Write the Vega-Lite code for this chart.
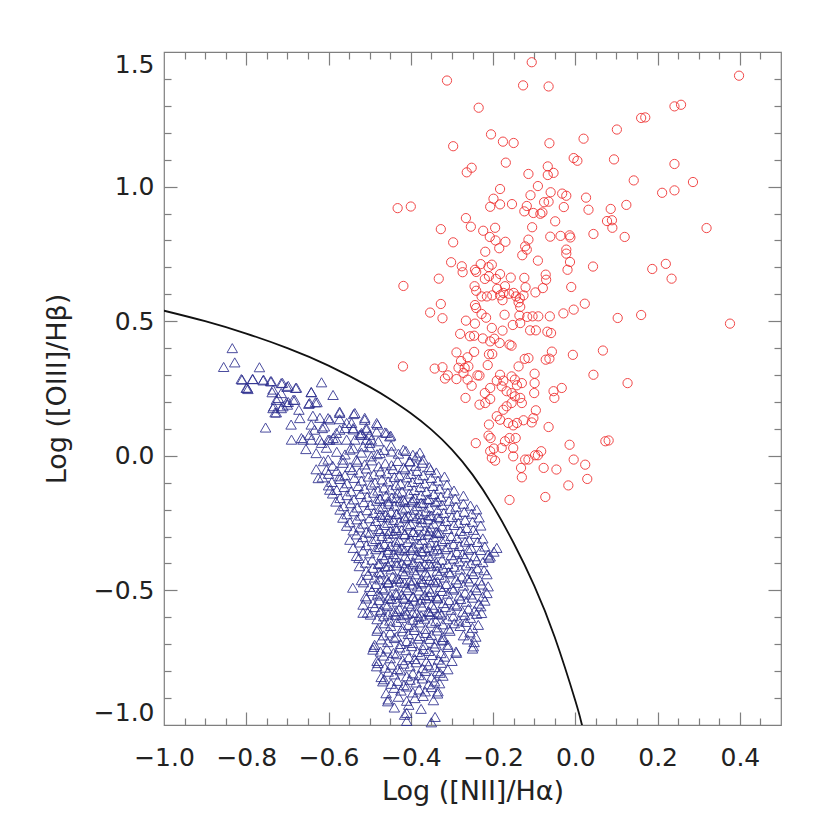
{
"$schema": "https://vega.github.io/schema/vega-lite/v6.json",
"width": 617, "height": 673,
"autosize": {"type": "none"},
"padding": {"left": 164, "top": 52, "right": 49, "bottom": 105},
"background": "white",
"config": {"view": {"stroke": "#7f7f7f", "strokeWidth": 1.2},
  "axis": {"labelFont": "DejaVu Sans", "titleFont": "DejaVu Sans", "labelFontSize": 25, "titleFontSize": 27, "titleFontWeight": "normal", "labelColor": "#222", "titleColor": "#222", "tickColor": "#7f7f7f", "tickWidth": 1.2, "grid": false, "domain": false, "labelOverlap": false}},
"datasets": {
"curve": [{"x":-1.0,"y":0.539},{"x":-0.9,"y":0.5},{"x":-0.8,"y":0.454},{"x":-0.7,"y":0.4},{"x":-0.6,"y":0.335},{"x":-0.5,"y":0.256},{"x":-0.45,"y":0.21},{"x":-0.4,"y":0.158},{"x":-0.35,"y":0.097},{"x":-0.3,"y":0.023},{"x":-0.25,"y":-0.07},{"x":-0.2,"y":-0.186},{"x":-0.15,"y":-0.324},{"x":-0.1,"y":-0.482},{"x":-0.05,"y":-0.674},{"x":0.0,"y":-0.91},{"x":0.014,"y":-0.987},{"x":0.02,"y":-1.021},{"x":0.03,"y":-1.083}],
"red": [
{"x":-0.106,"y":1.462},{"x":-0.312,"y":1.394},{"x":-0.127,"y":1.376},{"x":-0.065,"y":1.372},{"x":0.398,"y":1.412},{"x":-0.235,"y":1.293},{"x":0.241,"y":1.298},{"x":0.257,"y":1.304},{"x":0.16,"y":1.255},{"x":0.17,"y":1.257},{"x":0.101,"y":1.212},{"x":-0.205,"y":1.194},{"x":-0.176,"y":1.167},{"x":-0.15,"y":1.162},{"x":-0.063,"y":1.161},{"x":0.02,"y":1.178},{"x":-0.297,"y":1.15},{"x":-0.169,"y":1.089},{"x":-0.004,"y":1.106},{"x":0.005,"y":1.096},{"x":0.094,"y":1.101},{"x":0.241,"y":1.084},{"x":-0.264,"y":1.053},{"x":-0.252,"y":1.07},{"x":-0.114,"y":1.047},{"x":-0.067,"y":1.075},{"x":-0.067,"y":1.043},{"x":-0.053,"y":1.051},{"x":0.142,"y":1.023},{"x":0.286,"y":1.017},{"x":-0.183,"y":0.991},{"x":-0.091,"y":1.002},{"x":-0.109,"y":0.968},{"x":-0.06,"y":0.979},{"x":-0.032,"y":0.974},{"x":-0.022,"y":0.966},{"x":0.026,"y":0.959},{"x":0.211,"y":0.977},{"x":0.241,"y":0.986},{"x":-0.199,"y":0.955},{"x":-0.207,"y":0.925},{"x":-0.183,"y":0.934},{"x":-0.154,"y":0.935},{"x":-0.118,"y":0.928},{"x":-0.124,"y":0.908},{"x":-0.102,"y":0.902},{"x":-0.08,"y":0.904},{"x":-0.076,"y":0.942},{"x":-0.065,"y":0.944},{"x":-0.028,"y":0.924},{"x":0.032,"y":0.914},{"x":0.086,"y":0.917},{"x":0.124,"y":0.932},{"x":-0.432,"y":0.92},{"x":-0.4,"y":0.926},{"x":-0.418,"y":0.631},{"x":-0.419,"y":0.332},{"x":-0.266,"y":0.883},{"x":-0.085,"y":0.899},{"x":-0.049,"y":0.871},{"x":-0.105,"y":0.849},{"x":-0.254,"y":0.851},{"x":-0.327,"y":0.842},{"x":-0.224,"y":0.836},{"x":-0.195,"y":0.847},{"x":-0.208,"y":0.813},{"x":-0.194,"y":0.8},{"x":-0.17,"y":0.795},{"x":-0.185,"y":0.771},{"x":-0.061,"y":0.814},{"x":-0.036,"y":0.817},{"x":-0.014,"y":0.819},{"x":-0.012,"y":0.811},{"x":0.044,"y":0.824},{"x":0.077,"y":0.872},{"x":0.089,"y":0.875},{"x":0.09,"y":0.847},{"x":0.12,"y":0.813},{"x":0.319,"y":0.846},{"x":-0.297,"y":0.793},{"x":-0.114,"y":0.803},{"x":-0.122,"y":0.778},{"x":-0.118,"y":0.766},{"x":-0.129,"y":0.745},{"x":-0.219,"y":0.758},{"x":-0.022,"y":0.766},{"x":-0.022,"y":0.751},{"x":-0.013,"y":0.72},{"x":-0.019,"y":0.691},{"x":-0.091,"y":0.725},{"x":0.043,"y":0.703},{"x":-0.302,"y":0.719},{"x":-0.276,"y":0.704},{"x":-0.274,"y":0.682},{"x":-0.244,"y":0.691},{"x":-0.241,"y":0.683},{"x":-0.23,"y":0.712},{"x":-0.211,"y":0.701},{"x":-0.203,"y":0.71},{"x":-0.332,"y":0.658},{"x":-0.22,"y":0.657},{"x":-0.21,"y":0.667},{"x":-0.193,"y":0.657},{"x":-0.183,"y":0.675},{"x":-0.157,"y":0.662},{"x":-0.124,"y":0.661},{"x":-0.072,"y":0.673},{"x":-0.071,"y":0.654},{"x":-0.079,"y":0.623},{"x":-0.01,"y":0.627},{"x":-0.245,"y":0.63},{"x":-0.241,"y":0.613},{"x":-0.19,"y":0.62},{"x":-0.171,"y":0.63},{"x":-0.228,"y":0.592},{"x":-0.215,"y":0.592},{"x":-0.202,"y":0.596},{"x":-0.183,"y":0.596},{"x":-0.175,"y":0.605},{"x":-0.177,"y":0.578},{"x":-0.161,"y":0.602},{"x":-0.15,"y":0.605},{"x":-0.144,"y":0.592},{"x":-0.135,"y":0.585},{"x":-0.126,"y":0.596},{"x":-0.138,"y":0.57},{"x":-0.134,"y":0.553},{"x":-0.121,"y":0.626},{"x":-0.097,"y":0.607},{"x":0.023,"y":0.565},{"x":0.187,"y":0.694},{"x":0.22,"y":0.713},{"x":0.234,"y":0.658},{"x":-0.327,"y":0.564},{"x":-0.353,"y":0.532},{"x":-0.323,"y":0.511},{"x":-0.244,"y":0.56},{"x":-0.241,"y":0.549},{"x":-0.228,"y":0.527},{"x":-0.217,"y":0.513},{"x":-0.172,"y":0.524},{"x":-0.152,"y":0.486},{"x":-0.134,"y":0.493},{"x":-0.136,"y":0.521},{"x":-0.117,"y":0.516},{"x":-0.104,"y":0.518},{"x":-0.09,"y":0.518},{"x":-0.062,"y":0.518},{"x":-0.029,"y":0.529},{"x":-0.004,"y":0.543},{"x":0.103,"y":0.512},{"x":0.16,"y":0.523},{"x":0.376,"y":0.491},{"x":-0.266,"y":0.502},{"x":-0.244,"y":0.491},{"x":-0.203,"y":0.475},{"x":-0.177,"y":0.465},{"x":-0.28,"y":0.453},{"x":-0.256,"y":0.444},{"x":-0.246,"y":0.446},{"x":-0.225,"y":0.436},{"x":-0.207,"y":0.425},{"x":-0.197,"y":0.435},{"x":-0.184,"y":0.419},{"x":-0.16,"y":0.413},{"x":-0.155,"y":0.409},{"x":-0.11,"y":0.466},{"x":-0.096,"y":0.466},{"x":-0.068,"y":0.461},{"x":-0.059,"y":0.456},{"x":-0.289,"y":0.384},{"x":-0.246,"y":0.386},{"x":-0.262,"y":0.366},{"x":-0.278,"y":0.352},{"x":-0.26,"y":0.332},{"x":-0.21,"y":0.377},{"x":-0.202,"y":0.378},{"x":-0.213,"y":0.337},{"x":-0.123,"y":0.36},{"x":-0.114,"y":0.363},{"x":-0.072,"y":0.357},{"x":-0.063,"y":0.361},{"x":-0.057,"y":0.387},{"x":-0.006,"y":0.375},{"x":0.067,"y":0.391},{"x":-0.342,"y":0.324},{"x":-0.323,"y":0.329},{"x":-0.317,"y":0.287},{"x":-0.31,"y":0.299},{"x":-0.289,"y":0.285},{"x":-0.284,"y":0.327},{"x":-0.269,"y":0.327},{"x":-0.272,"y":0.308},{"x":-0.238,"y":0.299},{"x":-0.233,"y":0.298},{"x":-0.262,"y":0.283},{"x":-0.252,"y":0.26},{"x":-0.267,"y":0.215},{"x":-0.183,"y":0.301},{"x":-0.191,"y":0.279},{"x":-0.175,"y":0.279},{"x":-0.155,"y":0.295},{"x":-0.147,"y":0.283},{"x":-0.142,"y":0.262},{"x":-0.13,"y":0.27},{"x":-0.138,"y":0.332},{"x":-0.099,"y":0.305},{"x":-0.099,"y":0.27},{"x":-0.1,"y":0.233},{"x":-0.233,"y":0.19},{"x":-0.219,"y":0.196},{"x":-0.207,"y":0.211},{"x":-0.22,"y":0.233},{"x":-0.207,"y":0.252},{"x":-0.179,"y":0.258},{"x":-0.167,"y":0.24},{"x":-0.155,"y":0.233},{"x":-0.147,"y":0.221},{"x":-0.134,"y":0.215},{"x":-0.13,"y":0.196},{"x":-0.175,"y":0.171},{"x":-0.167,"y":0.184},{"x":-0.155,"y":0.196},{"x":-0.053,"y":0.24},{"x":-0.051,"y":0.215},{"x":-0.033,"y":0.252},{"x":0.044,"y":0.301},{"x":0.127,"y":0.27},{"x":-0.21,"y":0.116},{"x":-0.191,"y":0.147},{"x":-0.183,"y":0.134},{"x":-0.163,"y":0.122},{"x":-0.151,"y":0.113},{"x":-0.142,"y":0.122},{"x":-0.126,"y":0.132},{"x":-0.106,"y":0.124},{"x":-0.102,"y":0.14},{"x":-0.096,"y":0.169},{"x":-0.065,"y":0.107},{"x":-0.242,"y":0.047},{"x":-0.211,"y":0.075},{"x":-0.206,"y":0.066},{"x":-0.171,"y":0.054},{"x":-0.16,"y":0.066},{"x":-0.145,"y":0.066},{"x":-0.014,"y":0.041},{"x":0.073,"y":0.054},{"x":0.081,"y":0.057},{"x":-0.207,"y":0.017},{"x":-0.198,"y":0.027},{"x":-0.203,"y":-0.008},{"x":-0.195,"y":-0.018},{"x":-0.179,"y":0.029},{"x":-0.151,"y":0.029},{"x":-0.151,"y":-0.002},{"x":-0.132,"y":-0.045},{"x":-0.13,"y":-0.08},{"x":-0.122,"y":-0.014},{"x":-0.114,"y":-0.014},{"x":-0.098,"y":0.002},{"x":-0.091,"y":0.002},{"x":-0.083,"y":0.017},{"x":-0.077,"y":-0.045},{"x":-0.046,"y":-0.051},{"x":-0.004,"y":-0.014},{"x":0.024,"y":-0.033},{"x":0.029,"y":-0.086},{"x":-0.017,"y":-0.11},{"x":-0.073,"y":-0.153},{"x":-0.16,"y":-0.164}
],
"blue": [
{"x":-0.834,"y":0.4},{"x":-0.855,"y":0.33},{"x":-0.828,"y":0.347},{"x":-0.768,"y":0.329},{"x":-0.81,"y":0.283},{"x":-0.798,"y":0.253},{"x":-0.784,"y":0.285},{"x":-0.758,"y":0.283},{"x":-0.741,"y":0.277},{"x":-0.712,"y":0.271},{"x":-0.701,"y":0.256},{"x":-0.678,"y":0.253},{"x":-0.735,"y":0.246},{"x":-0.715,"y":0.233},{"x":-0.722,"y":0.215},{"x":-0.698,"y":0.2},{"x":-0.686,"y":0.208},{"x":-0.617,"y":0.273},{"x":-0.642,"y":0.237},{"x":-0.589,"y":0.226},{"x":-0.733,"y":0.184},{"x":-0.711,"y":0.184},{"x":-0.73,"y":0.161},{"x":-0.672,"y":0.171},{"x":-0.7,"y":0.19},{"x":-0.648,"y":0.193},{"x":-0.632,"y":0.199},{"x":-0.573,"y":0.164},{"x":-0.539,"y":0.155},{"x":-0.512,"y":0.141},{"x":-0.481,"y":0.116},{"x":-0.459,"y":0.085},{"x":-0.449,"y":0.075},{"x":-0.753,"y":0.105},{"x":-0.691,"y":0.116},{"x":-0.638,"y":0.149},{"x":-0.621,"y":0.141},{"x":-0.597,"y":0.135},{"x":-0.642,"y":0.116},{"x":-0.634,"y":0.097},{"x":-0.61,"y":0.109},{"x":-0.573,"y":0.136},{"x":-0.556,"y":0.122},{"x":-0.54,"y":0.098},{"x":-0.52,"y":0.085},{"x":-0.508,"y":0.104},{"x":-0.5,"y":0.078},{"x":-0.483,"y":0.09},{"x":-0.69,"y":0.06},{"x":-0.662,"y":0.06},{"x":-0.642,"y":0.06},{"x":-0.621,"y":0.06},{"x":-0.601,"y":0.06},{"x":-0.581,"y":0.06},{"x":-0.556,"y":0.06},{"x":-0.536,"y":0.06},{"x":-0.508,"y":0.06},{"x":-0.617,"y":0.048},{"x":-0.615,"y":0.103},{"x":-0.589,"y":0.066},{"x":-0.573,"y":0.097},{"x":-0.54,"y":0.103},{"x":-0.52,"y":0.079},{"x":-0.5,"y":0.048},{"x":-0.812,"y":0.285},{"x":-0.785,"y":0.285},{"x":-0.759,"y":0.28},{"x":-0.739,"y":0.277},{"x":-0.8,"y":0.252},{"x":-0.796,"y":0.248},{"x":-0.715,"y":0.27},{"x":-0.698,"y":0.26},{"x":-0.68,"y":0.252},{"x":-0.737,"y":0.236},{"x":-0.727,"y":0.208},{"x":-0.702,"y":0.199},{"x":-0.682,"y":0.208},{"x":-0.642,"y":0.236},{"x":-0.735,"y":0.177},{"x":-0.715,"y":0.177},{"x":-0.727,"y":0.161},{"x":-0.646,"y":0.196},{"x":-0.628,"y":0.199},{"x":-0.67,"y":0.14},{"x":-0.601,"y":0.14},{"x":-0.573,"y":0.159},{"x":-0.536,"y":0.159},{"x":-0.512,"y":0.134},{"x":-0.483,"y":0.122},{"x":-0.463,"y":0.087},{"x":-0.451,"y":0.072},{"x":-0.666,"y":0.066},{"x":-0.646,"y":0.078},{"x":-0.597,"y":0.06},{"x":-0.581,"y":0.085},{"x":-0.56,"y":0.103},{"x":-0.544,"y":0.122},{"x":-0.524,"y":0.078},{"x":-0.508,"y":0.097},{"x":-0.496,"y":0.06},{"x":-0.479,"y":0.054},{"x":-0.601,"y":-0.014},{"x":-0.605,"y":-0.052},{"x":-0.625,"y":-0.083},{"x":-0.597,"y":-0.126},{"x":-0.573,"y":-0.076},{"x":-0.565,"y":-0.014},{"x":-0.548,"y":0.023},{"x":-0.532,"y":-0.014},{"x":-0.516,"y":0.035},{"x":-0.496,"y":-0.002},{"x":-0.475,"y":0.01},{"x":-0.447,"y":0.016},{"x":-0.418,"y":0.023},{"x":-0.402,"y":-0.021},{"x":-0.386,"y":-0.002},{"x":-0.37,"y":-0.014},
{"x":-0.655,"y":0.025},{"x":-0.63,"y":0.01},{"x":-0.605,"y":0.03},{"x":-0.58,"y":0.015},{"x":-0.56,"y":0.005},{"x":-0.54,"y":0.028},{"x":-0.52,"y":0.012},{"x":-0.5,"y":0.032},{"x":-0.482,"y":0.006},{"x":-0.465,"y":0.022},{"x":-0.448,"y":0.038},{"x":-0.43,"y":0.008},{"x":-0.412,"y":0.018},{"x":-0.395,"y":0.004},{"x":-0.378,"y":0.012},
{"x":-0.612,"y":-0.02},{"x":-0.59,"y":-0.037},{"x":-0.565,"y":-0.026},{"x":-0.548,"y":-0.042},{"x":-0.53,"y":-0.022},{"x":-0.512,"y":-0.032},{"x":-0.495,"y":-0.017},{"x":-0.478,"y":-0.039},{"x":-0.462,"y":-0.028},{"x":-0.447,"y":-0.035},{"x":-0.432,"y":-0.019},{"x":-0.418,"y":-0.043},{"x":-0.403,"y":-0.02},{"x":-0.388,"y":-0.037},{"x":-0.372,"y":-0.026},{"x":-0.355,"y":-0.042},
{"x":-0.63,"y":-0.05},{"x":-0.6,"y":-0.067},{"x":-0.58,"y":-0.056},{"x":-0.56,"y":-0.072},{"x":-0.542,"y":-0.052},{"x":-0.525,"y":-0.062},{"x":-0.508,"y":-0.047},{"x":-0.49,"y":-0.069},{"x":-0.474,"y":-0.058},{"x":-0.458,"y":-0.065},{"x":-0.443,"y":-0.049},{"x":-0.428,"y":-0.073},{"x":-0.414,"y":-0.05},{"x":-0.4,"y":-0.067},{"x":-0.385,"y":-0.056},{"x":-0.37,"y":-0.072},{"x":-0.352,"y":-0.052},{"x":-0.338,"y":-0.062},
{"x":-0.615,"y":-0.08},{"x":-0.592,"y":-0.097},{"x":-0.572,"y":-0.086},{"x":-0.555,"y":-0.102},{"x":-0.537,"y":-0.082},{"x":-0.52,"y":-0.092},{"x":-0.503,"y":-0.077},{"x":-0.487,"y":-0.099},{"x":-0.47,"y":-0.088},{"x":-0.455,"y":-0.095},{"x":-0.44,"y":-0.079},{"x":-0.425,"y":-0.103},{"x":-0.41,"y":-0.08},{"x":-0.396,"y":-0.097},{"x":-0.381,"y":-0.086},{"x":-0.366,"y":-0.102},{"x":-0.35,"y":-0.082},{"x":-0.334,"y":-0.092},{"x":-0.318,"y":-0.077},
{"x":-0.6,"y":-0.11},{"x":-0.58,"y":-0.127},{"x":-0.562,"y":-0.116},{"x":-0.545,"y":-0.132},{"x":-0.528,"y":-0.112},{"x":-0.512,"y":-0.122},{"x":-0.496,"y":-0.107},{"x":-0.48,"y":-0.129},{"x":-0.465,"y":-0.118},{"x":-0.45,"y":-0.125},{"x":-0.436,"y":-0.109},{"x":-0.421,"y":-0.133},{"x":-0.407,"y":-0.11},{"x":-0.392,"y":-0.127},{"x":-0.377,"y":-0.116},{"x":-0.362,"y":-0.132},{"x":-0.346,"y":-0.112},{"x":-0.33,"y":-0.122},{"x":-0.312,"y":-0.107},{"x":-0.295,"y":-0.129},
{"x":-0.59,"y":-0.14},{"x":-0.572,"y":-0.157},{"x":-0.555,"y":-0.146},{"x":-0.538,"y":-0.162},{"x":-0.522,"y":-0.142},{"x":-0.506,"y":-0.152},{"x":-0.49,"y":-0.137},{"x":-0.475,"y":-0.159},{"x":-0.46,"y":-0.148},{"x":-0.446,"y":-0.155},{"x":-0.432,"y":-0.139},{"x":-0.418,"y":-0.163},{"x":-0.404,"y":-0.14},{"x":-0.39,"y":-0.157},{"x":-0.375,"y":-0.146},{"x":-0.36,"y":-0.162},{"x":-0.344,"y":-0.142},{"x":-0.327,"y":-0.152},{"x":-0.31,"y":-0.137},{"x":-0.292,"y":-0.159},{"x":-0.272,"y":-0.148},
{"x":-0.582,"y":-0.17},{"x":-0.563,"y":-0.187},{"x":-0.546,"y":-0.176},{"x":-0.53,"y":-0.192},{"x":-0.514,"y":-0.172},{"x":-0.498,"y":-0.182},{"x":-0.483,"y":-0.167},{"x":-0.468,"y":-0.189},{"x":-0.454,"y":-0.178},{"x":-0.44,"y":-0.185},{"x":-0.426,"y":-0.169},{"x":-0.412,"y":-0.193},{"x":-0.398,"y":-0.17},{"x":-0.384,"y":-0.187},{"x":-0.37,"y":-0.176},{"x":-0.355,"y":-0.192},{"x":-0.34,"y":-0.172},{"x":-0.324,"y":-0.182},{"x":-0.307,"y":-0.167},{"x":-0.29,"y":-0.189},{"x":-0.272,"y":-0.178},{"x":-0.255,"y":-0.185},
{"x":-0.572,"y":-0.2},{"x":-0.555,"y":-0.217},{"x":-0.538,"y":-0.206},{"x":-0.522,"y":-0.222},{"x":-0.506,"y":-0.202},{"x":-0.49,"y":-0.212},{"x":-0.476,"y":-0.197},{"x":-0.462,"y":-0.219},{"x":-0.448,"y":-0.208},{"x":-0.434,"y":-0.215},{"x":-0.42,"y":-0.199},{"x":-0.406,"y":-0.223},{"x":-0.392,"y":-0.2},{"x":-0.378,"y":-0.217},{"x":-0.364,"y":-0.206},{"x":-0.35,"y":-0.222},{"x":-0.335,"y":-0.202},{"x":-0.32,"y":-0.212},{"x":-0.304,"y":-0.197},{"x":-0.287,"y":-0.219},{"x":-0.27,"y":-0.208},{"x":-0.252,"y":-0.215},{"x":-0.24,"y":-0.199},
{"x":-0.565,"y":-0.23},{"x":-0.548,"y":-0.247},{"x":-0.531,"y":-0.236},{"x":-0.515,"y":-0.252},{"x":-0.5,"y":-0.232},{"x":-0.485,"y":-0.242},{"x":-0.47,"y":-0.227},{"x":-0.456,"y":-0.249},{"x":-0.442,"y":-0.238},{"x":-0.428,"y":-0.245},{"x":-0.414,"y":-0.229},{"x":-0.4,"y":-0.253},{"x":-0.386,"y":-0.23},{"x":-0.372,"y":-0.247},{"x":-0.358,"y":-0.236},{"x":-0.344,"y":-0.252},{"x":-0.33,"y":-0.232},{"x":-0.315,"y":-0.242},{"x":-0.3,"y":-0.227},{"x":-0.284,"y":-0.249},{"x":-0.268,"y":-0.238},{"x":-0.25,"y":-0.245},{"x":-0.234,"y":-0.229},
{"x":-0.556,"y":-0.26},{"x":-0.54,"y":-0.277},{"x":-0.524,"y":-0.266},{"x":-0.508,"y":-0.282},{"x":-0.493,"y":-0.262},{"x":-0.478,"y":-0.272},{"x":-0.464,"y":-0.257},{"x":-0.45,"y":-0.279},{"x":-0.436,"y":-0.268},{"x":-0.422,"y":-0.275},{"x":-0.408,"y":-0.259},{"x":-0.394,"y":-0.283},{"x":-0.38,"y":-0.26},{"x":-0.366,"y":-0.277},{"x":-0.352,"y":-0.266},{"x":-0.338,"y":-0.282},{"x":-0.324,"y":-0.262},{"x":-0.31,"y":-0.272},{"x":-0.295,"y":-0.257},{"x":-0.28,"y":-0.279},{"x":-0.264,"y":-0.268},{"x":-0.248,"y":-0.275},{"x":-0.23,"y":-0.259},
{"x":-0.548,"y":-0.312},{"x":-0.532,"y":-0.292},{"x":-0.516,"y":-0.302},{"x":-0.5,"y":-0.287},{"x":-0.485,"y":-0.309},{"x":-0.47,"y":-0.298},{"x":-0.456,"y":-0.305},{"x":-0.442,"y":-0.289},{"x":-0.428,"y":-0.313},{"x":-0.414,"y":-0.29},{"x":-0.4,"y":-0.307},{"x":-0.386,"y":-0.296},{"x":-0.372,"y":-0.312},{"x":-0.358,"y":-0.292},{"x":-0.344,"y":-0.302},{"x":-0.33,"y":-0.287},{"x":-0.316,"y":-0.309},{"x":-0.302,"y":-0.298},{"x":-0.288,"y":-0.305},{"x":-0.273,"y":-0.289},{"x":-0.258,"y":-0.313},{"x":-0.242,"y":-0.29},{"x":-0.225,"y":-0.307},
{"x":-0.54,"y":-0.342},{"x":-0.524,"y":-0.322},{"x":-0.508,"y":-0.332},{"x":-0.493,"y":-0.317},{"x":-0.478,"y":-0.339},{"x":-0.464,"y":-0.328},{"x":-0.45,"y":-0.335},{"x":-0.436,"y":-0.319},{"x":-0.422,"y":-0.343},{"x":-0.408,"y":-0.32},{"x":-0.394,"y":-0.337},{"x":-0.38,"y":-0.326},{"x":-0.366,"y":-0.342},{"x":-0.352,"y":-0.322},{"x":-0.338,"y":-0.332},{"x":-0.324,"y":-0.317},{"x":-0.31,"y":-0.339},{"x":-0.296,"y":-0.328},{"x":-0.282,"y":-0.335},{"x":-0.268,"y":-0.319},{"x":-0.253,"y":-0.343},{"x":-0.238,"y":-0.32},{"x":-0.22,"y":-0.337},
{"x":-0.532,"y":-0.372},{"x":-0.516,"y":-0.352},{"x":-0.5,"y":-0.362},{"x":-0.485,"y":-0.347},{"x":-0.47,"y":-0.369},{"x":-0.456,"y":-0.358},{"x":-0.442,"y":-0.365},{"x":-0.428,"y":-0.349},{"x":-0.414,"y":-0.373},{"x":-0.4,"y":-0.35},{"x":-0.386,"y":-0.367},{"x":-0.372,"y":-0.356},{"x":-0.358,"y":-0.372},{"x":-0.344,"y":-0.352},{"x":-0.33,"y":-0.362},{"x":-0.316,"y":-0.347},{"x":-0.302,"y":-0.369},{"x":-0.288,"y":-0.358},{"x":-0.274,"y":-0.365},{"x":-0.26,"y":-0.349},{"x":-0.245,"y":-0.373},{"x":-0.23,"y":-0.35},{"x":-0.212,"y":-0.367},{"x":-0.198,"y":-0.356},
{"x":-0.526,"y":-0.38},{"x":-0.51,"y":-0.397},{"x":-0.494,"y":-0.386},{"x":-0.479,"y":-0.402},{"x":-0.464,"y":-0.382},{"x":-0.45,"y":-0.392},{"x":-0.436,"y":-0.377},{"x":-0.422,"y":-0.399},{"x":-0.408,"y":-0.388},{"x":-0.394,"y":-0.395},{"x":-0.38,"y":-0.379},{"x":-0.366,"y":-0.403},{"x":-0.352,"y":-0.38},{"x":-0.338,"y":-0.397},{"x":-0.324,"y":-0.386},{"x":-0.31,"y":-0.402},{"x":-0.296,"y":-0.382},{"x":-0.282,"y":-0.392},{"x":-0.268,"y":-0.377},{"x":-0.254,"y":-0.399},{"x":-0.24,"y":-0.388},{"x":-0.225,"y":-0.395},{"x":-0.21,"y":-0.379},
{"x":-0.525,"y":-0.41},{"x":-0.508,"y":-0.427},{"x":-0.492,"y":-0.416},{"x":-0.477,"y":-0.432},{"x":-0.462,"y":-0.412},{"x":-0.448,"y":-0.422},{"x":-0.434,"y":-0.407},{"x":-0.42,"y":-0.429},{"x":-0.406,"y":-0.418},{"x":-0.392,"y":-0.425},{"x":-0.378,"y":-0.409},{"x":-0.364,"y":-0.433},{"x":-0.35,"y":-0.41},{"x":-0.336,"y":-0.427},{"x":-0.322,"y":-0.416},{"x":-0.308,"y":-0.432},{"x":-0.294,"y":-0.412},{"x":-0.28,"y":-0.422},{"x":-0.266,"y":-0.407},{"x":-0.252,"y":-0.429},{"x":-0.238,"y":-0.418},{"x":-0.222,"y":-0.425},
{"x":-0.52,"y":-0.462},{"x":-0.504,"y":-0.442},{"x":-0.488,"y":-0.452},{"x":-0.473,"y":-0.437},{"x":-0.458,"y":-0.459},{"x":-0.444,"y":-0.448},{"x":-0.43,"y":-0.455},{"x":-0.416,"y":-0.439},{"x":-0.402,"y":-0.463},{"x":-0.388,"y":-0.44},{"x":-0.374,"y":-0.457},{"x":-0.36,"y":-0.446},{"x":-0.346,"y":-0.462},{"x":-0.332,"y":-0.442},{"x":-0.318,"y":-0.452},{"x":-0.304,"y":-0.437},{"x":-0.29,"y":-0.459},{"x":-0.276,"y":-0.448},{"x":-0.262,"y":-0.455},{"x":-0.248,"y":-0.439},{"x":-0.232,"y":-0.463},{"x":-0.215,"y":-0.44},
{"x":-0.515,"y":-0.47},{"x":-0.5,"y":-0.487},{"x":-0.485,"y":-0.476},{"x":-0.47,"y":-0.492},{"x":-0.455,"y":-0.472},{"x":-0.44,"y":-0.482},{"x":-0.426,"y":-0.467},{"x":-0.412,"y":-0.489},{"x":-0.398,"y":-0.478},{"x":-0.384,"y":-0.485},{"x":-0.37,"y":-0.469},{"x":-0.356,"y":-0.493},{"x":-0.342,"y":-0.47},{"x":-0.328,"y":-0.487},{"x":-0.314,"y":-0.476},{"x":-0.3,"y":-0.492},{"x":-0.286,"y":-0.472},{"x":-0.272,"y":-0.482},{"x":-0.258,"y":-0.467},{"x":-0.243,"y":-0.489},{"x":-0.228,"y":-0.478},{"x":-0.212,"y":-0.485},
{"x":-0.51,"y":-0.522},{"x":-0.495,"y":-0.502},{"x":-0.48,"y":-0.512},{"x":-0.465,"y":-0.497},{"x":-0.45,"y":-0.519},{"x":-0.436,"y":-0.508},{"x":-0.422,"y":-0.515},{"x":-0.408,"y":-0.499},{"x":-0.394,"y":-0.523},{"x":-0.38,"y":-0.5},{"x":-0.366,"y":-0.517},{"x":-0.352,"y":-0.506},{"x":-0.338,"y":-0.522},{"x":-0.324,"y":-0.502},{"x":-0.31,"y":-0.512},{"x":-0.296,"y":-0.497},{"x":-0.282,"y":-0.519},{"x":-0.268,"y":-0.508},{"x":-0.254,"y":-0.515},{"x":-0.24,"y":-0.499},{"x":-0.225,"y":-0.523},
{"x":-0.508,"y":-0.53},{"x":-0.492,"y":-0.547},{"x":-0.477,"y":-0.536},{"x":-0.462,"y":-0.552},{"x":-0.447,"y":-0.532},{"x":-0.433,"y":-0.542},{"x":-0.419,"y":-0.527},{"x":-0.405,"y":-0.549},{"x":-0.391,"y":-0.538},{"x":-0.377,"y":-0.545},{"x":-0.363,"y":-0.529},{"x":-0.349,"y":-0.553},{"x":-0.335,"y":-0.53},{"x":-0.321,"y":-0.547},{"x":-0.307,"y":-0.536},{"x":-0.293,"y":-0.552},{"x":-0.279,"y":-0.532},{"x":-0.265,"y":-0.542},{"x":-0.25,"y":-0.527},{"x":-0.235,"y":-0.549},{"x":-0.22,"y":-0.538},
{"x":-0.505,"y":-0.582},{"x":-0.488,"y":-0.562},{"x":-0.472,"y":-0.572},{"x":-0.457,"y":-0.557},{"x":-0.442,"y":-0.579},{"x":-0.428,"y":-0.568},{"x":-0.414,"y":-0.575},{"x":-0.4,"y":-0.559},{"x":-0.386,"y":-0.583},{"x":-0.372,"y":-0.56},{"x":-0.358,"y":-0.577},{"x":-0.344,"y":-0.566},{"x":-0.33,"y":-0.582},{"x":-0.316,"y":-0.562},{"x":-0.302,"y":-0.572},{"x":-0.288,"y":-0.557},{"x":-0.274,"y":-0.579},{"x":-0.26,"y":-0.568},{"x":-0.245,"y":-0.575},{"x":-0.23,"y":-0.559},
{"x":-0.498,"y":-0.59},{"x":-0.482,"y":-0.607},{"x":-0.466,"y":-0.596},{"x":-0.451,"y":-0.612},{"x":-0.437,"y":-0.592},{"x":-0.423,"y":-0.602},{"x":-0.409,"y":-0.587},{"x":-0.395,"y":-0.609},{"x":-0.381,"y":-0.598},{"x":-0.367,"y":-0.605},{"x":-0.353,"y":-0.589},{"x":-0.339,"y":-0.613},{"x":-0.325,"y":-0.59},{"x":-0.311,"y":-0.607},{"x":-0.297,"y":-0.596},{"x":-0.283,"y":-0.612},{"x":-0.269,"y":-0.592},{"x":-0.255,"y":-0.602},{"x":-0.24,"y":-0.587},
{"x":-0.48,"y":-0.642},{"x":-0.464,"y":-0.622},{"x":-0.449,"y":-0.632},{"x":-0.434,"y":-0.617},{"x":-0.42,"y":-0.639},{"x":-0.406,"y":-0.628},{"x":-0.392,"y":-0.635},{"x":-0.378,"y":-0.619},{"x":-0.364,"y":-0.643},{"x":-0.35,"y":-0.62},{"x":-0.336,"y":-0.637},{"x":-0.322,"y":-0.626},{"x":-0.308,"y":-0.642},{"x":-0.294,"y":-0.622},{"x":-0.28,"y":-0.632},{"x":-0.266,"y":-0.617},{"x":-0.25,"y":-0.639},{"x":-0.236,"y":-0.628},
{"x":-0.482,"y":-0.65},{"x":-0.466,"y":-0.667},{"x":-0.45,"y":-0.656},{"x":-0.435,"y":-0.672},{"x":-0.42,"y":-0.652},{"x":-0.406,"y":-0.662},{"x":-0.392,"y":-0.647},{"x":-0.378,"y":-0.669},{"x":-0.364,"y":-0.658},{"x":-0.35,"y":-0.665},{"x":-0.336,"y":-0.649},{"x":-0.322,"y":-0.673},{"x":-0.305,"y":-0.65},{"x":-0.272,"y":-0.667},{"x":-0.256,"y":-0.656},{"x":-0.242,"y":-0.672},
{"x":-0.488,"y":-0.702},{"x":-0.472,"y":-0.682},{"x":-0.456,"y":-0.692},{"x":-0.44,"y":-0.677},{"x":-0.425,"y":-0.699},{"x":-0.41,"y":-0.688},{"x":-0.396,"y":-0.695},{"x":-0.382,"y":-0.679},{"x":-0.368,"y":-0.703},{"x":-0.354,"y":-0.68},{"x":-0.34,"y":-0.697},{"x":-0.325,"y":-0.686},{"x":-0.31,"y":-0.702},{"x":-0.262,"y":-0.682},{"x":-0.246,"y":-0.692},
{"x":-0.49,"y":-0.71},{"x":-0.474,"y":-0.727},{"x":-0.458,"y":-0.716},{"x":-0.442,"y":-0.732},{"x":-0.427,"y":-0.712},{"x":-0.412,"y":-0.722},{"x":-0.398,"y":-0.707},{"x":-0.384,"y":-0.729},{"x":-0.37,"y":-0.718},{"x":-0.356,"y":-0.725},{"x":-0.342,"y":-0.709},{"x":-0.327,"y":-0.733},{"x":-0.31,"y":-0.71},{"x":-0.29,"y":-0.727},{"x":-0.25,"y":-0.716},
{"x":-0.482,"y":-0.762},{"x":-0.466,"y":-0.742},{"x":-0.45,"y":-0.752},{"x":-0.435,"y":-0.737},{"x":-0.42,"y":-0.759},{"x":-0.405,"y":-0.748},{"x":-0.39,"y":-0.755},{"x":-0.376,"y":-0.739},{"x":-0.362,"y":-0.763},{"x":-0.348,"y":-0.74},{"x":-0.333,"y":-0.757},{"x":-0.318,"y":-0.746},{"x":-0.3,"y":-0.762},
{"x":-0.48,"y":-0.77},{"x":-0.463,"y":-0.787},{"x":-0.447,"y":-0.776},{"x":-0.432,"y":-0.792},{"x":-0.417,"y":-0.772},{"x":-0.402,"y":-0.782},{"x":-0.387,"y":-0.767},{"x":-0.372,"y":-0.789},{"x":-0.357,"y":-0.778},{"x":-0.342,"y":-0.785},{"x":-0.326,"y":-0.769},{"x":-0.31,"y":-0.793},
{"x":-0.472,"y":-0.822},{"x":-0.455,"y":-0.802},{"x":-0.44,"y":-0.812},{"x":-0.425,"y":-0.797},{"x":-0.41,"y":-0.819},{"x":-0.395,"y":-0.808},{"x":-0.38,"y":-0.815},{"x":-0.365,"y":-0.799},{"x":-0.35,"y":-0.823},{"x":-0.335,"y":-0.8},{"x":-0.322,"y":-0.817},
{"x":-0.465,"y":-0.83},{"x":-0.448,"y":-0.847},{"x":-0.432,"y":-0.836},{"x":-0.417,"y":-0.852},{"x":-0.402,"y":-0.832},{"x":-0.387,"y":-0.842},{"x":-0.372,"y":-0.827},{"x":-0.357,"y":-0.849},{"x":-0.342,"y":-0.838},{"x":-0.33,"y":-0.845},
{"x":-0.46,"y":-0.882},{"x":-0.44,"y":-0.862},{"x":-0.424,"y":-0.872},{"x":-0.41,"y":-0.857},{"x":-0.395,"y":-0.879},{"x":-0.38,"y":-0.868},{"x":-0.365,"y":-0.875},{"x":-0.35,"y":-0.859},{"x":-0.335,"y":-0.883},
{"x":-0.455,"y":-0.905},{"x":-0.43,"y":-0.895},{"x":-0.41,"y":-0.91},{"x":-0.39,"y":-0.9},{"x":-0.37,"y":-0.892},{"x":-0.345,"y":-0.908},
{"x":-0.44,"y":-0.935},{"x":-0.405,"y":-0.925},{"x":-0.375,"y":-0.94},{"x":-0.415,"y":-0.962},{"x":-0.41,"y":-0.955},{"x":-0.341,"y":-0.97},{"x":-0.41,"y":-0.985},{"x":-0.35,"y":-0.99},
{"x":-0.541,"y":-0.49},{"x":-0.516,"y":-0.553},{"x":-0.516,"y":-0.583},{"x":-0.492,"y":-0.72},{"x":-0.483,"y":-0.782},{"x":-0.468,"y":-0.838},{"x":-0.456,"y":-0.912},{"x":-0.191,"y":-0.342},{"x":-0.207,"y":-0.374},{"x":-0.215,"y":-0.51},{"x":-0.228,"y":-0.584},{"x":-0.248,"y":-0.708},{"x":-0.289,"y":-0.732},{"x":-0.321,"y":-0.683},{"x":-0.329,"y":-0.806},{"x":-0.334,"y":-0.875},
{"x":-0.475,"y":-0.159},{"x":-0.455,"y":-0.169},{"x":-0.435,"y":-0.157},{"x":-0.415,"y":-0.172},{"x":-0.395,"y":-0.163},{"x":-0.375,"y":-0.174},{"x":-0.355,"y":-0.16},{"x":-0.335,"y":-0.167},
{"x":-0.475,"y":-0.219},{"x":-0.455,"y":-0.229},{"x":-0.435,"y":-0.217},{"x":-0.415,"y":-0.232},{"x":-0.395,"y":-0.223},{"x":-0.375,"y":-0.234},{"x":-0.355,"y":-0.22},{"x":-0.335,"y":-0.227},
{"x":-0.475,"y":-0.279},{"x":-0.455,"y":-0.289},{"x":-0.435,"y":-0.277},{"x":-0.415,"y":-0.292},{"x":-0.395,"y":-0.283},{"x":-0.375,"y":-0.294},{"x":-0.355,"y":-0.28},{"x":-0.335,"y":-0.287},
{"x":-0.475,"y":-0.339},{"x":-0.455,"y":-0.349},{"x":-0.435,"y":-0.337},{"x":-0.415,"y":-0.352},{"x":-0.395,"y":-0.343},{"x":-0.375,"y":-0.354},{"x":-0.355,"y":-0.34},{"x":-0.335,"y":-0.347},
{"x":-0.475,"y":-0.399},{"x":-0.455,"y":-0.409},{"x":-0.435,"y":-0.397},{"x":-0.415,"y":-0.412},{"x":-0.395,"y":-0.403},{"x":-0.375,"y":-0.414},{"x":-0.355,"y":-0.4},{"x":-0.335,"y":-0.407},
{"x":-0.475,"y":-0.459},{"x":-0.455,"y":-0.469},{"x":-0.435,"y":-0.457},{"x":-0.415,"y":-0.472},{"x":-0.395,"y":-0.463},{"x":-0.375,"y":-0.474},{"x":-0.355,"y":-0.46},{"x":-0.335,"y":-0.467},
{"x":-0.475,"y":-0.519},{"x":-0.455,"y":-0.529},{"x":-0.435,"y":-0.517},{"x":-0.415,"y":-0.532},{"x":-0.395,"y":-0.523},{"x":-0.375,"y":-0.534},{"x":-0.355,"y":-0.52},{"x":-0.335,"y":-0.527},
{"x":-0.475,"y":-0.579},{"x":-0.455,"y":-0.589},{"x":-0.435,"y":-0.577},{"x":-0.415,"y":-0.592},{"x":-0.395,"y":-0.583},{"x":-0.375,"y":-0.594},{"x":-0.355,"y":-0.58},{"x":-0.335,"y":-0.587}
]
},
"layer": [
{"data": {"name": "curve"}, "mark": {"type": "line", "color": "#111111", "strokeWidth": 1.8, "clip": true, "interpolate": "natural"},
 "encoding": {
  "x": {"field": "x", "type": "quantitative", "scale": {"domain": [-1, 0.5], "nice": false, "zero": false},
        "axis": {"orient": "bottom", "values": [-1, -0.8, -0.6, -0.4, -0.2, 0, 0.2, 0.4], "format": ".1f", "ticks": false, "labelPadding": 20, "labelFlush": false, "title": "Log ([NII]/Hα)", "titlePadding": 8}},
  "y": {"field": "y", "type": "quantitative", "scale": {"domain": [-1, 1.5], "nice": false, "zero": false},
        "axis": {"orient": "left", "values": [-1, -0.5, 0, 0.5, 1, 1.5], "format": ".1f", "ticks": false, "labelPadding": 10, "labelFlush": true, "title": "Log ([OIII]/Hβ)", "titlePadding": 22}}
 }},
{"data": {"name": "red"}, "mark": {"type": "point", "shape": "circle", "filled": false, "color": "#f02828", "strokeWidth": 1, "opacity": 0.85, "size": 85},
 "encoding": {
  "x": {"field": "x", "type": "quantitative", "scale": {"domain": [-1, 0.5], "nice": false, "zero": false},
        "axis": {"orient": "bottom", "values": [-0.8, -0.6, -0.4, -0.2, 0, 0.2, 0.4], "labels": false, "ticks": true, "tickSize": -13, "title": null}},
  "y": {"field": "y", "type": "quantitative", "scale": {"domain": [-1, 1.5], "nice": false, "zero": false},
        "axis": {"orient": "left", "values": [-0.5, 0, 0.5, 1], "labels": false, "ticks": true, "tickSize": -13, "title": null}}
 }},
{"data": {"name": "blue"}, "mark": {"type": "point", "shape": "triangle-up", "filled": false, "color": "#2b2d8e", "strokeWidth": 1, "opacity": 0.85, "size": 110},
 "encoding": {
  "x": {"field": "x", "type": "quantitative", "scale": {"domain": [-1, 0.5], "nice": false, "zero": false},
        "axis": {"orient": "bottom", "values": [-0.95, -0.9, -0.85, -0.75, -0.7, -0.65, -0.55, -0.5, -0.45, -0.35, -0.3, -0.25, -0.15, -0.1, -0.05, 0.05, 0.1, 0.15, 0.25, 0.3, 0.35, 0.45], "labels": false, "ticks": true, "tickSize": -7, "title": null}},
  "y": {"field": "y", "type": "quantitative", "scale": {"domain": [-1, 1.5], "nice": false, "zero": false},
        "axis": {"orient": "left", "values": [-0.9, -0.8, -0.7, -0.6, -0.4, -0.3, -0.2, -0.1, 0.1, 0.2, 0.3, 0.4, 0.6, 0.7, 0.8, 0.9, 1.1, 1.2, 1.3, 1.4], "labels": false, "ticks": true, "tickSize": -7, "title": null}}
 }},
{"data": {"name": "curve"}, "mark": {"type": "point", "opacity": 0},
 "encoding": {
  "x": {"field": "x", "type": "quantitative", "scale": {"domain": [-1, 0.5], "nice": false, "zero": false},
        "axis": {"orient": "top", "values": [-0.8, -0.6, -0.4, -0.2, 0, 0.2, 0.4], "labels": false, "ticks": true, "tickSize": -13, "title": null}},
  "y": {"field": "y", "type": "quantitative", "scale": {"domain": [-1, 1.5], "nice": false, "zero": false},
        "axis": {"orient": "right", "values": [-0.5, 0, 0.5, 1], "labels": false, "ticks": true, "tickSize": -13, "title": null}}
 }},
{"data": {"name": "curve"}, "mark": {"type": "point", "opacity": 0},
 "encoding": {
  "x": {"field": "x", "type": "quantitative", "scale": {"domain": [-1, 0.5], "nice": false, "zero": false},
        "axis": {"orient": "top", "values": [-0.95, -0.9, -0.85, -0.75, -0.7, -0.65, -0.55, -0.5, -0.45, -0.35, -0.3, -0.25, -0.15, -0.1, -0.05, 0.05, 0.1, 0.15, 0.25, 0.3, 0.35, 0.45], "labels": false, "ticks": true, "tickSize": -7, "title": null}},
  "y": {"field": "y", "type": "quantitative", "scale": {"domain": [-1, 1.5], "nice": false, "zero": false},
        "axis": {"orient": "right", "values": [-0.9, -0.8, -0.7, -0.6, -0.4, -0.3, -0.2, -0.1, 0.1, 0.2, 0.3, 0.4, 0.6, 0.7, 0.8, 0.9, 1.1, 1.2, 1.3, 1.4], "labels": false, "ticks": true, "tickSize": -7, "title": null}}
 }}
],
"resolve": {"axis": {"x": "independent", "y": "independent"}}
}
